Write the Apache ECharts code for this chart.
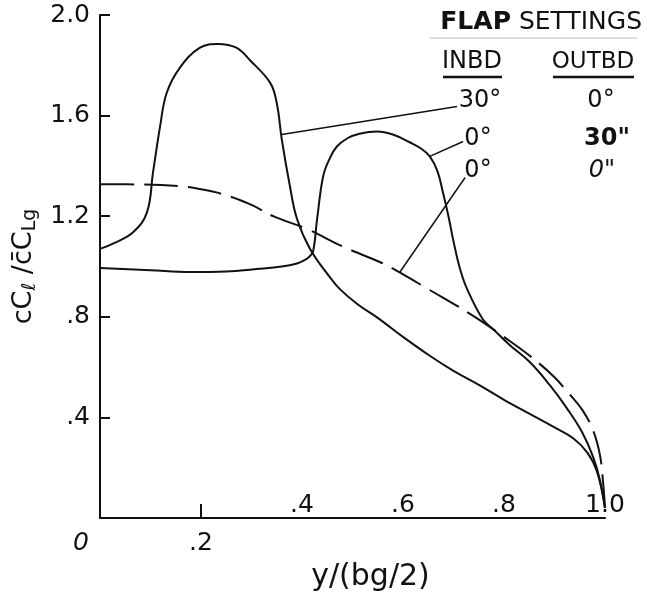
<!DOCTYPE html>
<html lang="en">
<head>
<meta charset="utf-8">
<script src="https://cdn.jsdelivr.net/npm/echarts@6/dist/echarts.min.js"></script>
<style>
  html, body { margin: 0; padding: 0; background: #fff; }
  #chart { width: 647px; height: 597px; }
</style>
</head>
<body>
<div id="chart"></div>
<script>
// inbd 30 deg / outbd 0 deg
var inbd30X = [0, 0.03, 0.066, 0.093, 0.105, 0.119, 0.132, 0.158, 0.198, 0.234, 0.27, 0.297, 0.337, 0.35, 0.36, 0.376, 0.39, 0.416, 0.455, 0.475, 0.51, 0.554, 0.6, 0.653, 0.70, 0.752, 0.80, 0.85, 0.90, 0.937, 0.965, 0.984, 1.0];
var inbd30Y = [1.07, 1.095, 1.137, 1.215, 1.374, 1.557, 1.69, 1.79, 1.87, 1.885, 1.87, 1.82, 1.73, 1.65, 1.505, 1.32, 1.19, 1.07, 0.958, 0.91, 0.85, 0.79, 0.72, 0.645, 0.585, 0.527, 0.47, 0.415, 0.36, 0.317, 0.26, 0.186, 0.04];
// inbd 0 deg / outbd 30 deg
var outbd30X = [0, 0.1, 0.178, 0.25, 0.31, 0.36, 0.39, 0.405, 0.415, 0.422, 0.43, 0.442, 0.455, 0.469, 0.49, 0.509, 0.548, 0.58, 0.614, 0.635, 0.653, 0.668, 0.679, 0.69, 0.70, 0.713, 0.727, 0.758, 0.778, 0.81, 0.851, 0.89, 0.925, 0.955, 0.977, 0.99, 1.0];
var outbd30Y = [0.994, 0.985, 0.978, 0.98, 0.99, 1.0, 1.012, 1.025, 1.04, 1.06, 1.19, 1.36, 1.43, 1.477, 1.51, 1.525, 1.537, 1.525, 1.493, 1.47, 1.438, 1.38, 1.295, 1.2, 1.1, 0.99, 0.91, 0.79, 0.752, 0.69, 0.62, 0.53, 0.435, 0.34, 0.24, 0.15, 0.04];
// inbd 0 deg / outbd 0 deg (dashed)
var flapsUpX = [0, 0.08, 0.158, 0.2, 0.244, 0.3, 0.343, 0.41, 0.48, 0.554, 0.574, 0.65, 0.739, 0.8, 0.851, 0.9, 0.925, 0.955, 0.977, 0.99, 0.996, 1.0];
var flapsUpY = [1.327, 1.326, 1.319, 1.307, 1.287, 1.245, 1.2, 1.149, 1.08, 1.018, 0.998, 0.91, 0.804, 0.72, 0.645, 0.56, 0.503, 0.43, 0.345, 0.25, 0.147, 0.04];

var yTicks = [0, 0.4, 0.8, 1.2, 1.6, 2.0];
var yTickLabels = ['', '.4', '.8', '1.2', '1.6', '2.0'];
var xTicksBelow = [0, 0.2];
var xLabelsBelow = ['0', '.2'];
var xTicksAbove = [0.4, 0.6, 0.8, 1.0];
var xLabelsAbove = ['.4', '.6', '.8', '1.0'];

// leader lines from the key to each curve
var leader30 = [[0.36, 1.525], [0.707, 1.636]];
var leaderOut30 = [[0.653, 1.438], [0.719, 1.497]];
var leaderUp = [[0.594, 0.978], [0.723, 1.354]];

function pairs(xs, ys) {
    return xs.map(function (x, i) { return [x, ys[i]]; });
}
function leader(p) {
    return {
        silent: true,
        symbol: 'none',
        label: { show: false },
        lineStyle: { color: '#111', width: 1.5, type: 'solid' },
        data: [[{ coord: p[0] }, { coord: p[1] }]]
    };
}
function labelFor(values, labels) {
    return function (v) {
        for (var i = 0; i < values.length; i++) {
            if (Math.abs(values[i] - v) < 1e-6) return labels[i];
        }
        return '';
    };
}

var font = 'DejaVu Sans';
var chart = echarts.init(document.getElementById('chart'));

var lineBase = {
    type: 'line',
    showSymbol: false,
    symbol: 'none',
    smooth: 0.4,
    animation: false
};

function txt(x, y, s, f, align) {
    return { type: 'text', x: x, y: y, style: { text: s, textAlign: align || 'center', textVerticalAlign: 'middle', font: f, fill: '#111' } };
}

var option = {
    animation: false,
    backgroundColor: '#fff',
    grid: { left: 100, right: 42, top: 15, bottom: 78 },
    xAxis: [{
        type: 'value', min: 0, max: 1, interval: 0.2, position: 'bottom',
        name: 'y/(bg/2)', nameLocation: 'middle', nameGap: 44,
        nameTextStyle: { fontFamily: font, fontSize: 30, color: '#111', padding: [0, 0, 0, 36] },
        axisLine: { show: true, lineStyle: { color: '#111', width: 2 } },
        axisTick: { show: true, inside: true, length: 14, customValues: [0.2], lineStyle: { color: '#111', width: 2 } },
        axisLabel: {
            customValues: xTicksBelow, margin: 13, color: '#111', fontFamily: font, fontSize: 25,
            formatter: function (v) {
                var s = labelFor(xTicksBelow, xLabelsBelow)(v);
                return v === 0 ? '{z|' + s + '}' : s;
            },
            rich: { z: { fontStyle: 'italic', fontFamily: font, fontSize: 25, color: '#111', padding: [0, 38, 0, 0] } }
        },
        splitLine: { show: false }
    }, {
        type: 'value', min: 0, max: 1, interval: 0.2, position: 'bottom',
        axisLine: { show: false },
        axisTick: { show: false },
        axisLabel: {
            inside: true, margin: 0, customValues: xTicksAbove, color: '#111', fontFamily: font, fontSize: 25,
            formatter: labelFor(xTicksAbove, xLabelsAbove)
        },
        splitLine: { show: false }
    }],
    yAxis: {
        type: 'value', min: 0, max: 2, interval: 0.4,
        name: 'cC{s|ℓ} /c̄C{s|Lg}', nameLocation: 'middle', nameRotate: 90, nameGap: 60,
        nameTextStyle: {
            fontFamily: font, fontSize: 27, color: '#111', padding: [0, 0, 0, 0],
            rich: { s: { fontFamily: font, fontSize: 19, color: '#111', verticalAlign: 'bottom', padding: [12, 0, 0, 0] } }
        },
        axisLine: { show: true, lineStyle: { color: '#111', width: 2 } },
        axisTick: { show: true, inside: true, length: 10, lineStyle: { color: '#111', width: 2 } },
        axisLabel: { margin: 10, color: '#111', fontFamily: font, fontSize: 25, formatter: labelFor(yTicks, yTickLabels) },
        splitLine: { show: false }
    },
    series: [
        Object.assign({}, lineBase, {
            name: 'INBD 30 / OUTBD 0',
            data: pairs(inbd30X, inbd30Y),
            lineStyle: { color: '#111', width: 2 },
            markLine: leader(leader30)
        }),
        Object.assign({}, lineBase, {
            name: 'INBD 0 / OUTBD 30',
            data: pairs(outbd30X, outbd30Y),
            lineStyle: { color: '#111', width: 2 },
            markLine: leader(leaderOut30)
        }),
        Object.assign({}, lineBase, {
            name: 'INBD 0 / OUTBD 0',
            data: pairs(flapsUpX, flapsUpY),
            lineStyle: { color: '#111', width: 2, type: [34, 10] },
            markLine: leader(leaderUp)
        })
    ],
    graphic: [
        { type: 'text', x: 642, y: 22, style: { text: '{b|FLAP} SETTINGS', textAlign: 'right', textVerticalAlign: 'middle', font: '25px "DejaVu Sans"', fill: '#111',
            rich: { b: { fontWeight: 'bold', fontFamily: font, fontSize: 25, fill: '#111' } } } },
        { type: 'line', shape: { x1: 430, y1: 38, x2: 637, y2: 38 }, style: { stroke: '#bbb', lineWidth: 1 } },
        txt(472, 62, 'INBD', '24px "DejaVu Sans"'),
        { type: 'line', shape: { x1: 443, y1: 77, x2: 502, y2: 77 }, style: { stroke: '#111', lineWidth: 2.5 } },
        txt(593, 62, 'OUTBD', '23px "DejaVu Sans"'),
        { type: 'line', shape: { x1: 553, y1: 77, x2: 634, y2: 77 }, style: { stroke: '#111', lineWidth: 2.5 } },
        txt(480, 101, '30°', '24px "DejaVu Sans"'),
        txt(601, 101, '0°', '24px "DejaVu Sans"'),
        txt(478, 139, '0°', '24px "DejaVu Sans"'),
        txt(607, 139, '30"', 'bold 24px "DejaVu Sans"'),
        txt(478, 171, '0°', '24px "DejaVu Sans"'),
        txt(602, 171, '0"', 'italic 24px "DejaVu Sans"')
    ]
};
chart.setOption(option);
</script>
</body>
</html>
